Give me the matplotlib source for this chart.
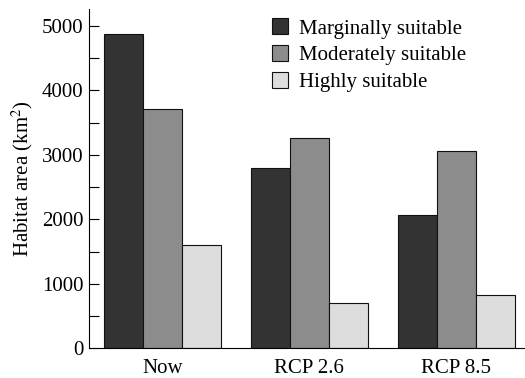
import matplotlib
matplotlib.use("Agg")
import matplotlib.pyplot as plt
import numpy as np

plt.rcParams['font.family'] = ['Liberation Serif', 'DejaVu Serif']
plt.rcParams['mathtext.fontset'] = 'stix'

categories = ["Now", "RCP 2.6", "RCP 8.5"]
series_names = ["Marginally suitable", "Moderately suitable", "Highly suitable"]
marginal = [4870, 2800, 2070]
moderate = [3710, 3270, 3060]
high = [1610, 700, 830]
colors = ["#333333", "#8c8c8c", "#dddddd"]

fig = plt.figure(figsize=(5.25, 3.78), dpi=100)
ax = fig.add_axes([0.170, 0.0786, 0.830, 0.897])

x = np.arange(len(categories))
w = 0.266
for i, (vals, name, c) in enumerate(zip([marginal, moderate, high], series_names, colors)):
    ax.bar(x + (i - 1) * w, vals, width=w, color=c, edgecolor="#111111", linewidth=0.8, label=name)

ax.set_xlim(-0.5, 2.47)
ax.set_ylim(0, 5260)
ax.set_yticks(np.arange(0, 5001, 1000))
ax.set_yticks(np.arange(500, 5000, 1000), minor=True)
ax.tick_params(axis='y', which='both', direction='in', length=7, width=0.8, labelsize=15, pad=4)
ax.set_xticks(x)
ax.set_xticklabels(categories)
ax.tick_params(axis='x', length=0, labelsize=15, pad=8)
ax.spines['top'].set_visible(False)
ax.spines['right'].set_visible(False)
ax.spines['left'].set_linewidth(0.8)
ax.spines['bottom'].set_linewidth(0.8)
ax.set_ylabel("Habitat area (km$^2$)", fontsize=15, labelpad=5)

leg = ax.legend(loc='upper left', bbox_to_anchor=(0.39, 1.01), frameon=False, fontsize=15,
                handlelength=0.8, handleheight=0.8, handletextpad=0.5, labelspacing=0.32,
                borderaxespad=0.2)

fig.savefig("out.png", dpi=100)
